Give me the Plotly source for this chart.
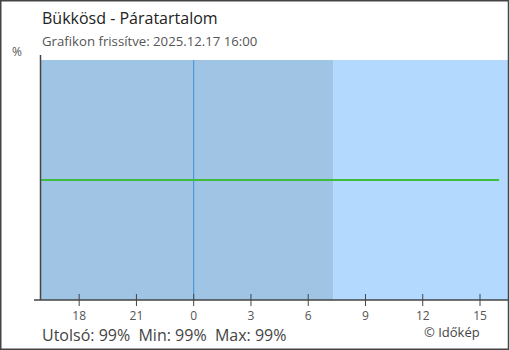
import plotly.graph_objects as go
from datetime import datetime, timedelta

# Data
times = [datetime(2025, 12, 16, 16) + timedelta(hours=h) for h in range(25)]
humidity = [99, 99, 99, 99, 99, 99, 99, 99, 99, 99, 99, 99, 99,
            99, 99, 99, 99, 99, 99, 99, 99, 99, 99, 99, 99]
tick_times = [datetime(2025, 12, 16, 18), datetime(2025, 12, 16, 21),
              datetime(2025, 12, 17, 0), datetime(2025, 12, 17, 3),
              datetime(2025, 12, 17, 6), datetime(2025, 12, 17, 9),
              datetime(2025, 12, 17, 12), datetime(2025, 12, 17, 15)]
tick_labels = ["18", "21", "0", "3", "6", "9", "12", "15"]
x_start = datetime(2025, 12, 16, 16, 0)
x_end = datetime(2025, 12, 17, 16, 28)
night_end = datetime(2025, 12, 17, 7, 18)
midnight = datetime(2025, 12, 17, 0)
title = "Bükkösd - Páratartalom"
subtitle = "Grafikon frissítve: 2025.12.17 16:00"
stats = "Utolsó: 99%\u00a0 Min: 99%\u00a0 Max: 99%"
credit = "© Időkép"

W, H = 510, 350
L, R, T, B = 41, 2, 60, 50
pw, ph = W - L - R, H - T - B

def px(x):
    return (x - L) / pw

def py(y):
    return (H - B - y) / ph

fig = go.Figure()
fig.add_trace(go.Scatter(x=times, y=humidity, mode="lines",
                         line=dict(color="#3dbd3d", width=2),
                         hoverinfo="skip", showlegend=False))

shapes = [
    dict(type="rect", xref="x", yref="paper", x0=x_start, x1=night_end, y0=0, y1=1,
         fillcolor="#a0c4e4", line_width=0, layer="below"),
    dict(type="rect", xref="x", yref="paper", x0=night_end, x1=x_end, y0=0, y1=1,
         fillcolor="#b3dafe", line_width=0, layer="below"),
    dict(type="line", xref="x", yref="paper", x0=midnight, x1=midnight, y0=0, y1=1,
         line=dict(color="#3a8fd4", width=1), layer="below"),
    # y axis line
    dict(type="line", xref="paper", yref="paper", x0=px(40.5), x1=px(40.5), y0=py(300), y1=py(55),
         line=dict(color="#444", width=1.5)),
    # x axis line
    dict(type="line", xref="paper", yref="paper", x0=px(34), x1=1, y0=py(300), y1=py(300),
         line=dict(color="#444", width=1.5)),
    # border
    dict(type="rect", xref="paper", yref="paper", x0=px(0.75), x1=px(508.5),
         y0=py(349.25), y1=py(0.75), line=dict(color="#444", width=1.5),
         fillcolor="rgba(0,0,0,0)"),
]
for t in tick_times:
    shapes.append(dict(type="line", xref="x", yref="paper", x0=t, x1=t,
                       y0=py(306), y1=py(294), line=dict(color="#444", width=1)))

annotations = [
    dict(text=title, xref="paper", yref="paper", x=px(40), y=py(18), xanchor="left",
         yanchor="middle", showarrow=False, font=dict(size=16, color="#222")),
    dict(text=subtitle, xref="paper", yref="paper", x=px(40), y=py(41), xanchor="left",
         yanchor="middle", showarrow=False, font=dict(size=13.2, color="#555")),
    dict(text="%", xref="paper", yref="paper", x=px(17), y=py(52), xanchor="center",
         yanchor="middle", showarrow=False, font=dict(size=12, color="#555")),
    dict(text=stats, xref="paper", yref="paper", x=px(40), y=py(335), xanchor="left",
         yanchor="middle", showarrow=False, font=dict(size=16, color="#444")),
    dict(text=credit, xref="paper", yref="paper", x=px(482), y=py(332), xanchor="right",
         yanchor="middle", showarrow=False, font=dict(size=13, color="#444")),
]

fig.update_layout(
    width=W, height=H,
    margin=dict(l=L, r=R, t=T, b=B, pad=0),
    paper_bgcolor="white", plot_bgcolor="white",
    font=dict(family="Open Sans", color="#444"),
    shapes=shapes, annotations=annotations,
    xaxis=dict(type="date", range=[x_start, x_end], tickvals=tick_times, ticktext=tick_labels,
               showgrid=False, zeroline=False, showline=False, ticks="",
               tickfont=dict(size=12, color="#555"), ticklabelstandoff=7, fixedrange=True),
    yaxis=dict(range=[97, 101], showticklabels=False, showgrid=False, zeroline=False,
               showline=False, ticks="", fixedrange=True),
)

fig.write_html("out.html", config=dict(displayModeBar=False))
